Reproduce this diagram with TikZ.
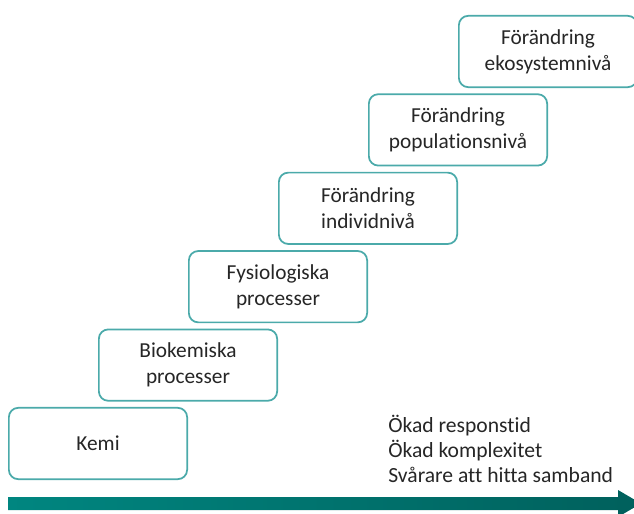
\documentclass[tikz,border=0pt]{standalone}
\usepackage{fontspec}
\setmainfont[Ligatures=NoCommon]{Carlito}
\usepackage{xcolor}
\usetikzlibrary{positioning}
\definecolor{stageteal}{RGB}{75, 170, 170}
\definecolor{textgray}{RGB}{38, 38, 38}
\definecolor{arrowlight}{RGB}{0, 134, 128}
\definecolor{arrowdark}{RGB}{0, 96, 92}

\begin{document}
\begin{tikzpicture}[
  x=0.75pt, y=-0.75pt,
  node distance=4pt,
  stage/.style={rectangle, rounded corners=7pt, draw=stageteal, line width=1.3pt, fill=white, minimum width=133.7pt, minimum height=53.5pt, align=center, font=\fontsize{16}{19.5}\selectfont, text=textgray},
]
  \clip (0,0) rectangle (634,513);
  \useasboundingbox (0,0) rectangle (634,513);

  \node[stage] (kemi) at (98,443.5) {Kemi};
  \node[stage, above=of kemi, xshift=67.5pt] (biokemi) {Biokemiska\\processer};
  \node[stage, above=of biokemi, xshift=67.5pt] (fysiologi) {Fysiologiska\\processer};
  \node[stage, above=of fysiologi, xshift=67.5pt] (individ) {Förändring\\individnivå};
  \node[stage, above=of individ, xshift=67.5pt] (population) {Förändring\\populationsnivå};
  \node[stage, above=of population, xshift=67.5pt] (ekosystem) {Förändring\\ekosystemnivå};

  \node[anchor=north west, align=left, inner sep=0pt, text=textgray, font=\fontsize{16.2}{18.75}\selectfont] (effekter) at (388,415) {Ökad responstid\\Ökad komplexitet\\Svårare att hitta samband};

  % gradient arrow along the bottom
  \coordinate (axisstart) at (8,503.5);
  \coordinate (axisend) at (641,503.5);
  \shade[left color=arrowlight, right color=arrowdark]
    (axisstart) ++(0,-6.5) -- ++(610,0) -- ++(0,-7) -- (axisend) -- ++(-23,13.5) -- ++(0,-7) -- ++(-610,0) -- cycle;
\end{tikzpicture}
\end{document}
